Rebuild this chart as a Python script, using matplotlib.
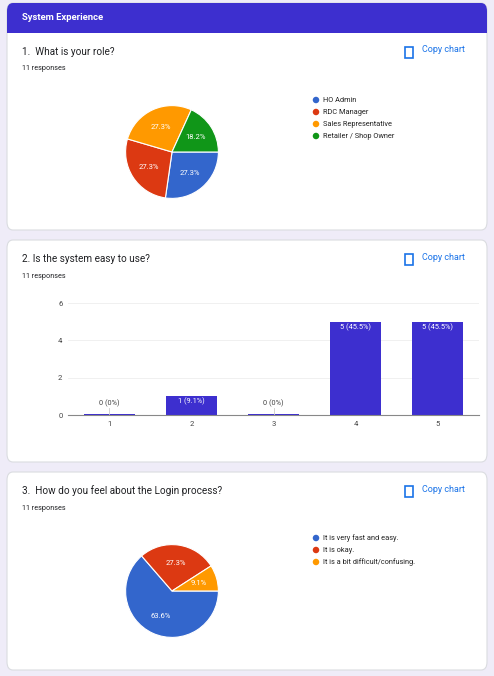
import matplotlib.pyplot as plt
from matplotlib.patches import FancyBboxPatch, Rectangle, Ellipse

# -- data --
q1_labels = ["HO Admin", "RDC Manager", "Sales Representative", "Retailer / Shop Owner"]
q1_values = [3, 3, 3, 2]
q2_categories = ["1", "2", "3", "4", "5"]
q2_values = [0, 1, 0, 5, 5]
q3_labels = ["It is very fast and easy.", "It is okay.", "It is a bit difficult/confusing."]
q3_values = [7, 3, 1]

pie_colors = ["#3366cc", "#dc3912", "#ff9900", "#109618"]
purple = "#3d2fcf"
W, H = 494, 676

plt.rcParams['font.family'] = ['Roboto', 'DejaVu Sans']
fig = plt.figure(figsize=(W / 100, H / 100), dpi=100)
fig.patch.set_facecolor("#efecf8")


def px_axes(x, y, w, h):
    # pixel box (top-left origin) -> figure axes, drawn above the card patches
    ax = fig.add_axes([x / W, 1 - (y + h) / H, w / W, h / H])
    ax.set_zorder(5)
    ax.patch.set_alpha(0)
    return ax


def card(y0, y1):
    fig.patches.append(FancyBboxPatch((7 / W, 1 - y1 / H), 480 / W, (y1 - y0) / H,
                                      boxstyle="round,pad=0,rounding_size=0.012",
                                      transform=fig.transFigure, fc="white",
                                      ec="#dadce0", lw=0.8))


def ftext(x, y, s, **kw):
    fig.text(x / W, 1 - y / H, s, va="center", **kw)


def header(y, title):
    ftext(22, y, title, fontsize=7.2, color="#202124")
    ftext(22, y + 17, "11 responses", fontsize=5.2, color="#202124")
    fig.patches.append(Rectangle((405 / W, 1 - (y + 6) / H), 8 / W, 11 / H,
                                 transform=fig.transFigure, fc="none", ec="#1a73e8", lw=1.2))
    ftext(422, y - 2, "Copy chart", fontsize=6.5, color="#1a73e8")


card(3, 230)
card(240, 462)
card(472, 670)
fig.patches.append(FancyBboxPatch((7 / W, 1 - 33 / H), 480 / W, 30 / H,
                                  boxstyle="round,pad=0,rounding_size=0.012",
                                  transform=fig.transFigure, fc=purple, ec="none"))
fig.patches.append(Rectangle((7 / W, 1 - 33 / H), 480 / W, 10 / H,
                             transform=fig.transFigure, fc=purple, ec="none"))
ftext(22, 18, "System Experience", fontsize=6.8, color="white", fontweight="bold")


def pie(cy, values, labels, colors, legend_y):
    ax = px_axes(172 - 58, cy - 58, 116, 116)
    ax.pie(values, colors=colors, startangle=0, counterclock=False,
           autopct="%.1f%%", pctdistance=0.6,
           wedgeprops=dict(ec="white", lw=0.8),
           textprops=dict(color="white", fontsize=5.5))
    ax.set_aspect("equal")
    for i, lab in enumerate(labels):
        yy = legend_y + i * 12
        fig.patches.append(Ellipse((316 / W, 1 - yy / H), 6.5 / W, 6.5 / H,
                                   transform=fig.transFigure, fc=colors[i], ec="none"))
        ftext(323, yy, lab, fontsize=5.3, color="#222222")


header(52, "1.  What is your role?")
pie(152, q1_values, q1_labels, pie_colors, 100)

header(259, "2. Is the system easy to use?")
ax = px_axes(68, 303, 411, 112)
x = range(len(q2_categories))
total = sum(q2_values)
ax.bar(x, [v if v else 0.04 for v in q2_values], width=0.62, color=purple)
for i, v in enumerate(q2_values):
    lab = f"{v} ({v / total * 100:.1f}%)".replace(".0%", "%")
    if v:
        ax.text(i, v - 0.08, lab, ha="center", va="top", color="white", fontsize=5.3)
    else:
        ax.plot([i, i], [0, 0.35], color="#cccccc", lw=0.6)
        ax.text(i, 0.4, lab, ha="center", va="bottom", color="#444444", fontsize=5.3)
ax.set_ylim(0, 6)
ax.set_xlim(-0.5, 4.5)
ax.set_yticks([0, 2, 4, 6])
ax.set_xticks(list(x), q2_categories)
ax.tick_params(length=0, labelsize=5.5, colors="#444444", pad=4)
ax.grid(axis="y", color="#eeeeee", lw=0.6)
ax.set_axisbelow(True)
for s in ["top", "right", "left"]:
    ax.spines[s].set_visible(False)
ax.spines["bottom"].set_color("#888888")

header(491, "3.  How do you feel about the Login process?")
pie(591, q3_values, q3_labels, pie_colors[:3], 538)

fig.savefig("out.png", dpi=100, facecolor=fig.get_facecolor())
